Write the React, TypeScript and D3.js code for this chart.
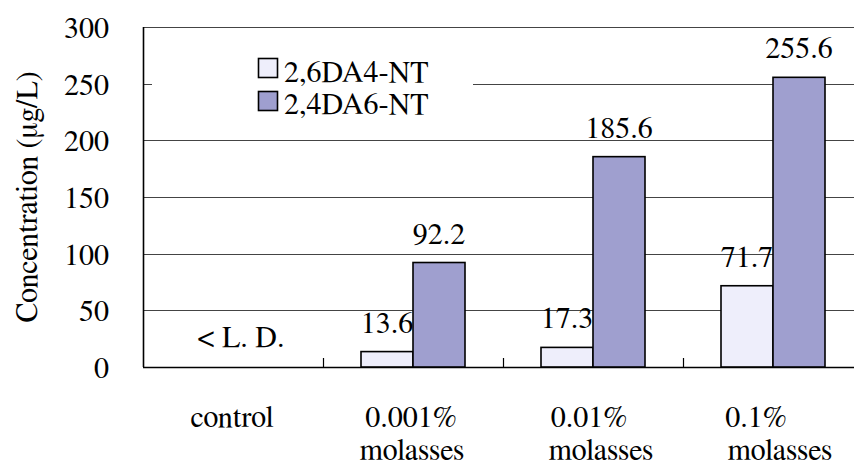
import React from "react";
import * as d3 from "d3";

const categories: string[][] = [
  ["control"],
  ["0.001%", "molasses"],
  ["0.01%", "molasses"],
  ["0.1%", "molasses"],
];
const seriesNames = ["2,6DA4-NT", "2,4DA6-NT"];
const series26DA4NT: (number | null)[] = [null, 13.6, 17.3, 71.7];
const series24DA6NT: (number | null)[] = [null, 92.2, 185.6, 255.6];
const yTicks = [0, 50, 100, 150, 200, 250, 300];
const belowLimitLabel = "< L. D.";

const W = 854;
const H = 471;
const COLORS = ["#EEEEFB", "#9F9FCF"];
const FONT_SIZE = 30;

function T(props: { x: number; y: number; anchor?: string; rotate?: number; children: React.ReactNode }) {
  const { x, y, anchor = "start", rotate, children } = props;
  return (
    <text
      transform={`translate(${x},${y})${rotate ? ` rotate(${rotate})` : ""}`}
      textAnchor={anchor}
      style={{ fontFamily: "FreeSerif", fontSize: FONT_SIZE + "px", fill: "#000" }}
    >
      {children}
    </text>
  );
}

export default function App() {
  const left = 143;
  const top = 27;
  const bottom = 367;
  const bandW = 180;
  const x = d3
    .scaleBand<number>()
    .domain(categories.map((_, i) => i))
    .range([left, left + bandW * categories.length])
    .paddingInner(0)
    .paddingOuter(0);
  const y = d3.scaleLinear().domain([0, 300]).range([bottom, top]);
  const barW = 52;
  const allSeries = [series26DA4NT, series24DA6NT];
  const xRight = left + bandW * categories.length;

  // per-line horizontal nudges for category labels (style)
  const labelDx: number[][] = [[-1], [-2, -1], [-4, 8], [-17, 7]];

  const barX = (ci: number, si: number) =>
    (x(ci) as number) + bandW / 2 - barW + si * barW;

  return (
    <svg
      width={W}
      height={H}
      style={{ position: "absolute", left: 0, top: 0, display: "block", background: "#fff" }}
    >
      {/* gridlines */}
      {yTicks.map((t) => (
        <line
          key={"g" + t}
          x1={left}
          x2={xRight}
          y1={Math.round(y(t)) + 0.5}
          y2={Math.round(y(t)) + 0.5}
          stroke={t === 0 ? "#000" : "#444"}
          strokeWidth={t === 0 ? 1.6 : 1.2}
        />
      ))}
      {/* legend background */}
      <rect x={152} y={40} width={321} height={90} fill="#fff" />
      {/* left axis */}
      <line x1={left + 0.5} x2={left + 0.5} y1={top} y2={bottom} stroke="#000" strokeWidth={1.6} />
      {/* category ticks */}
      {categories.map((_, i) =>
        i === 0 ? null : (
          <line
            key={"ct" + i}
            x1={(x(i) as number) + 0.5}
            x2={(x(i) as number) + 0.5}
            y1={bottom - 9}
            y2={bottom}
            stroke="#000"
            strokeWidth={1.2}
          />
        )
      )}
      {/* y tick labels */}
      {yTicks.map((t) => (
        <T key={"yl" + t} x={109} y={y(t) + 11} anchor="end">
          {t}
        </T>
      ))}
      {/* y axis title */}
      <T x={37} y={(top + bottom) / 2} anchor="middle" rotate={-90}>
        Concentration (μg/L)
      </T>
      {/* bars and labels, series in order */}
      {allSeries.map((vals, si) => (
        <g key={"s" + si}>
          {vals.map((v, ci) =>
            v == null ? null : (
              <rect
                key={"b" + ci}
                x={barX(ci, si)}
                y={y(v)}
                width={barW}
                height={bottom - y(v)}
                fill={COLORS[si]}
                stroke="#000"
                strokeWidth={1.6}
              />
            )
          )}
          {vals.map((v, ci) =>
            v == null ? null : (
              <T key={"l" + ci} x={barX(ci, si) + barW / 2} y={y(v) - 19} anchor="middle">
                {v.toFixed(1)}
              </T>
            )
          )}
        </g>
      ))}
      {/* below limit label for control */}
      <T x={(x(0) as number) + bandW / 2 + 8} y={347} anchor="middle">
        {belowLimitLabel}
      </T>
      {/* category labels */}
      {categories.map((lines, ci) =>
        lines.map((ln, li) => (
          <T
            key={"c" + ci + "_" + li}
            x={(x(ci) as number) + bandW / 2 + (labelDx[ci][li] || 0)}
            y={427 + li * 33}
            anchor="middle"
          >
            {ln}
          </T>
        ))
      )}
      {/* legend */}
      {seriesNames.map((n, i) => (
        <g key={"lg" + i}>
          <rect
            x={258.5}
            y={58.5 + i * 33}
            width={19}
            height={19}
            fill={COLORS[i]}
            stroke="#000"
            strokeWidth={1.6}
          />
          <T x={284} y={82 + i * 32}>
            {n}
          </T>
        </g>
      ))}
    </svg>
  );
}
